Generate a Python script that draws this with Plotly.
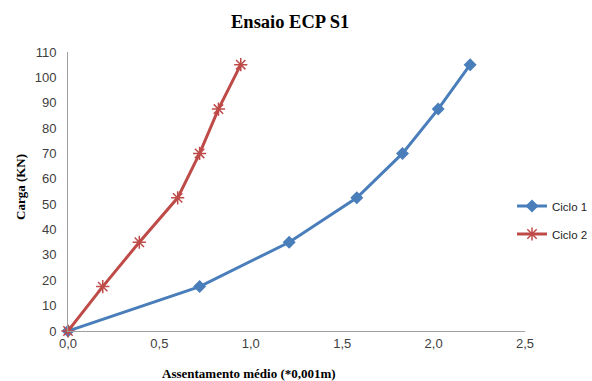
import plotly.graph_objects as go

# Settlement (*0,001 m) vs load (kN) for the two loading cycles
carga = [0, 17.5, 35, 52.5, 70, 87.5, 105]
ciclo1_assent = [0.0, 0.72, 1.21, 1.58, 1.83, 2.025, 2.20]
ciclo2_assent = [0.0, 0.19, 0.39, 0.60, 0.72, 0.823, 0.945]

x_ticks = [0, 0.5, 1.0, 1.5, 2.0, 2.5]
x_tick_text = ["0,0", "0,5", "1,0", "1,5", "2,0", "2,5"]
y_ticks = list(range(0, 111, 10))

blue = "#4A7EBB"
red = "#BE4B48"

fig = go.Figure()
fig.add_trace(go.Scatter(
    x=ciclo1_assent, y=carga, name="Ciclo 1", mode="lines+markers",
    legendgroup="c1",
    line=dict(color=blue, width=3),
    marker=dict(symbol="diamond", size=10, color=blue),
    cliponaxis=False,
))
fig.add_trace(go.Scatter(
    x=ciclo2_assent, y=carga, name="Ciclo 2", mode="lines+markers",
    legendgroup="c2",
    line=dict(color=red, width=3),
    marker=dict(symbol="asterisk-open", size=11, color=red,
                line=dict(color=red, width=1.5)),
    cliponaxis=False,
))

tick_font = dict(family="Liberation Sans, Arial, sans-serif", size=13, color="#404040")
title_font = dict(family="Liberation Serif, Times New Roman, serif", size=13, color="black")

fig.update_layout(
    width=592, height=381,
    margin=dict(l=68, r=67, t=52, b=50, autoexpand=False),
    paper_bgcolor="white", plot_bgcolor="white",
    showlegend=True,
    legend=dict(
        x=(512 - 68) / 457, y=(331 - 220) / 279, xanchor="left", yanchor="middle",
        font=dict(family="Liberation Sans, Arial, sans-serif", size=11.5, color="#222"),
        bgcolor="rgba(0,0,0,0)", itemwidth=30, tracegroupgap=9,
    ),
    annotations=[
        dict(text="<b>Ensaio ECP S1</b>", xref="paper", yref="paper",
             x=(290 - 68) / 457, y=1 + (52 - 22) / 279, showarrow=False,
             xanchor="center", yanchor="middle",
             font=dict(family="Liberation Serif, Times New Roman, serif", size=18.5, color="black")),
        dict(text="<b>Assentamento médio (*0,001m)</b>", xref="paper", yref="paper",
             x=(249 - 68) / 457, y=-(373 - 331) / 279, showarrow=False,
             xanchor="center", yanchor="middle",
             font=title_font),
        dict(text="<b>Carga (KN)</b>", xref="paper", yref="paper",
             x=-(68 - 20) / 457, y=(331 - 187) / 279, showarrow=False, textangle=-90,
             xanchor="center", yanchor="middle",
             font=title_font),
    ],
)
fig.update_xaxes(
    range=[0, 2.5], tickvals=x_ticks, ticktext=x_tick_text,
    showgrid=False, zeroline=False, showline=True, linecolor="#A0A0A0", linewidth=1,
    ticks="", tickfont=tick_font,
)
fig.update_yaxes(
    range=[0, 110], tickvals=y_ticks,
    showgrid=False, zeroline=False, showline=True, linecolor="#A0A0A0", linewidth=1,
    ticks="", tickfont=tick_font, ticklabelstandoff=8,
)

fig.write_html("out.html")
